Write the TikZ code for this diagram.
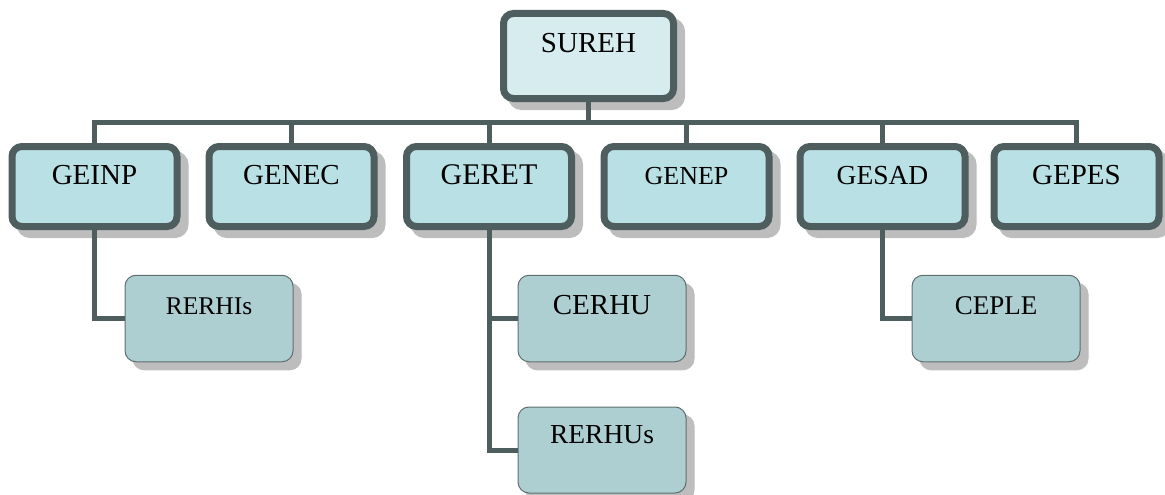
\documentclass[tikz,border=0pt]{standalone}
\usepackage{fontspec}
\setmainfont{Liberation Serif}
\usetikzlibrary{shadows}
\definecolor{edge}{HTML}{4E5D5E}
\definecolor{topfill}{HTML}{D6ECEF}
\definecolor{midfill}{HTML}{B9E0E4}
\definecolor{lowfill}{HTML}{AECFD2}
\definecolor{lowedge}{HTML}{5F6F70}
\definecolor{shade}{HTML}{BDBDBD}
\newcommand{\fsz}[1]{\fontsize{#1}{#1}\selectfont}
\begin{document}
\begin{tikzpicture}[x=1pt,y=-1pt,
  every node/.style={inner sep=0pt, outer sep=0pt},
  topbox/.style={draw=edge, line width=7pt, fill=topfill, rounded corners=10pt,
    minimum width=170pt, text height=39.5pt, text depth=45.5pt,
    drop shadow={shadow xshift=8pt, shadow yshift=-8pt, opacity=1, fill=shade, draw=shade, line width=7pt}},
  midbox/.style={draw=edge, line width=7pt, fill=midfill, rounded corners=10pt,
    minimum width=165pt, text height=37.5pt, text depth=42.5pt,
    drop shadow={shadow xshift=8pt, shadow yshift=-8pt, opacity=1, fill=shade, draw=shade, line width=7pt}},
  lowbox/.style={draw=lowedge, line width=1pt, fill=lowfill, rounded corners=11pt,
    minimum width=168pt, text height=39.5pt, text depth=47pt,
    drop shadow={shadow xshift=8pt, shadow yshift=-8pt, opacity=1, fill=shade, draw=shade, line width=1pt}},
  conn/.style={draw=edge, line width=5pt, line join=miter}
]
\useasboundingbox (0,0) rectangle (1165,495);

\node[topbox] (sureh) at (588.5,56) {\fsz{29}SUREH};

\node[midbox] (geinp) at (94.5,186.5) {\fsz{29}GEINP};
\node[midbox] (genec) at (291.5,186.5) {\fsz{29}GENEC};
\node[midbox] (geret) at (489,186.5) {\fsz{30}GERET};
\node[midbox] (genep) at (686.5,186.5) {\fsz{26}GENEP};
\node[midbox] (gesad) at (882.5,186.5) {\fsz{27.5}GESAD};
\node[midbox] (gepes) at (1076.5,186.5) {\fsz{29}GEPES};

\node[lowbox] (rerhis) at (209,318.5) {\fsz{25.5}RERHIs};
\node[lowbox] (cerhu) at (602,318.5) {\fsz{29}CERHU};
\node[lowbox, text height=36pt, text depth=50pt] (rerhus) at (602,450) {\fsz{27.5}RERHUs};
\node[lowbox] (ceple) at (996,318.5) {\fsz{27}CEPLE};

\coordinate (bar) at (588.5,122);
\draw[conn] (sureh.south) -- (bar);
\draw[conn] (geinp.north) |- (bar) -| (gepes.north);
\draw[conn] (genec.north) -- (genec.north |- bar);
\draw[conn] (geret.north) -- (geret.north |- bar);
\draw[conn] (genep.north) -- (genep.north |- bar);
\draw[conn] (gesad.north) -- (gesad.north |- bar);

\draw[conn] (geinp.south) |- (rerhis.west);
\draw[conn] (geret.south) |- (cerhu.west);
\draw[conn] (geret.south) |- (rerhus.west);
\draw[conn] (gesad.south) |- (ceple.west);
\end{tikzpicture}
\end{document}
